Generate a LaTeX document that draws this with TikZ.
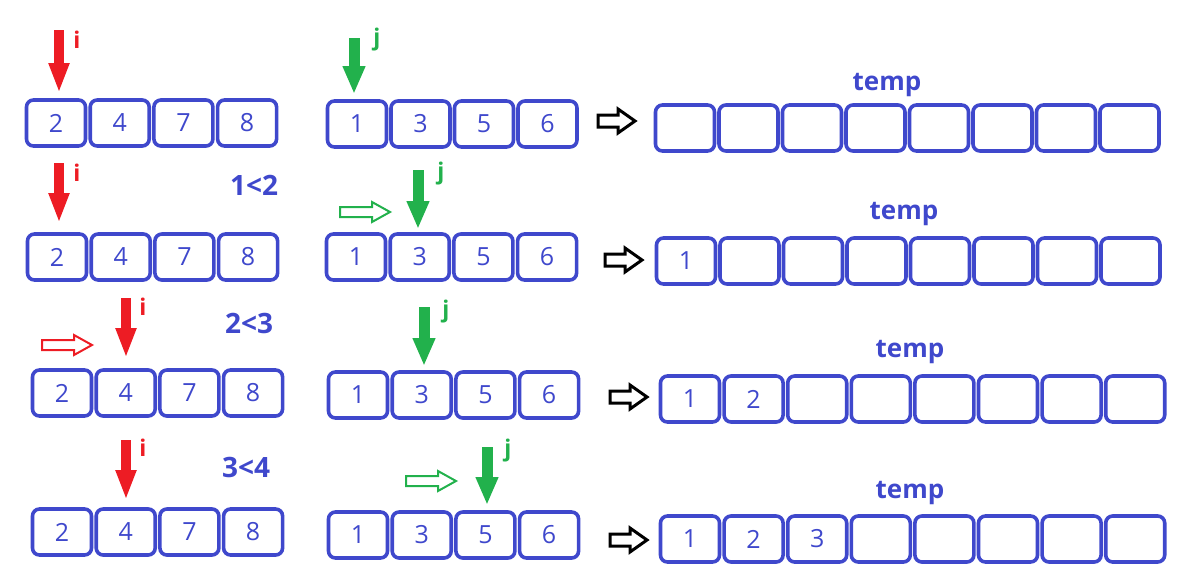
\documentclass[tikz,border=0pt]{standalone}
\usepackage{fontspec}
\setmainfont{Open Sans}
\usetikzlibrary{arrows.meta}
\definecolor{cblue}{HTML}{3F48CC}
\definecolor{cred}{HTML}{ED1C24}
\definecolor{cgreen}{HTML}{22B14C}
\tikzset{
  cell/.style={draw=cblue, line width=3.6pt, rounded corners=7pt, minimum width=59pt, minimum height=46pt, inner sep=0pt, text=cblue, font=\fontsize{25}{25}\selectfont},
  redptr/.style={cred, line width=10pt, -{Triangle[width=19pt,length=30pt]}},
  greenptr/.style={cgreen, line width=11pt, -{Triangle[width=21pt,length=28pt]}},
  plabel/.style={font=\fontsize{23}{23}\selectfont\bfseries},
  cmp/.style={text=cblue, font=\fontsize{28}{28}\selectfont\bfseries},
  templabel/.style={text=cblue, font=\fontsize{26}{26}\selectfont\bfseries},
  pics/bigharrow/.style={code={\draw[line width=3pt, miter limit=10] (0,-6) -- (20,-6) -- (20,-12) -- (37,0) -- (20,12) -- (20,6) -- (0,6) -- cycle;}},
  pics/smallharrow/.style={code={\draw[line width=2pt, miter limit=10] (0,-5) -- (32,-5) -- (32,-10) -- (50,0) -- (32,10) -- (32,5) -- (0,5) -- cycle;}}
}
\begin{document}
\begin{tikzpicture}[x=1pt,y=-1pt]
\useasboundingbox (0,0) rectangle (1180,584);
% ---------- Row 1 ----------
\foreach \v [count=\k] in {2,4,7,8} \node[cell] (L1-\k) at ({56+63.7*(\k-1)},123) {\v};
\foreach \v [count=\k] in {1,3,5,6} \node[cell] (J1-\k) at ({357+63.5*(\k-1)},124) {\v};
\foreach \k in {1,...,8} \node[cell] (T1-\k) at ({685+63.5*(\k-1)},128) {};
\coordinate (ri1s) at (59,30); \coordinate (ri1e) at (59,93);
\draw[redptr] (ri1s) -- (ri1e);
\node[plabel, text=cred] (i1) at (77,40) {i};
\coordinate (gj1s) at (354,38); \coordinate (gj1e) at (354,94);
\draw[greenptr] (gj1s) -- (gj1e);
\node[plabel, text=cgreen] (j1) at (377,40) {j};
\pic[black] at (598,121) {bigharrow};
\node[templabel] (tl1) at (887,85) {temp};
% ---------- Row 2 ----------
\foreach \v [count=\k] in {2,4,7,8} \node[cell] (L2-\k) at ({57+63.7*(\k-1)},257) {\v};
\foreach \v [count=\k] in {1,3,5,6} \node[cell] (J2-\k) at ({356+63.7*(\k-1)},257) {\v};
\foreach \v [count=\k] in {1,{},{},{},{},{},{},{}} \node[cell] (T2-\k) at ({686+63.5*(\k-1)},261) {\v};
\coordinate (ri2s) at (59,163); \coordinate (ri2e) at (59,223);
\draw[redptr] (ri2s) -- (ri2e);
\node[plabel, text=cred] (i2) at (77,173) {i};
\coordinate (gj2s) at (418,170); \coordinate (gj2e) at (418,229);
\draw[greenptr] (gj2s) -- (gj2e);
\node[plabel, text=cgreen] (j2) at (441,174) {j};
\pic[cgreen] at (340,212) {smallharrow};
\pic[black] at (605,260) {bigharrow};
\node[cmp] (c2) at (254,185) {1<2};
\node[templabel] (tl2) at (904,214) {temp};
% ---------- Row 3 ----------
\foreach \v [count=\k] in {2,4,7,8} \node[cell] (L3-\k) at ({62+63.7*(\k-1)},393) {\v};
\foreach \v [count=\k] in {1,3,5,6} \node[cell] (J3-\k) at ({358+63.7*(\k-1)},395) {\v};
\foreach \v [count=\k] in {1,2,{},{},{},{},{},{}} \node[cell] (T3-\k) at ({690+63.6*(\k-1)},399) {\v};
\coordinate (ri3s) at (126,298); \coordinate (ri3e) at (126,358);
\draw[redptr] (ri3s) -- (ri3e);
\node[plabel, text=cred] (i3) at (143,307) {i};
\pic[cred] at (42,345) {smallharrow};
\coordinate (gj3s) at (424,307); \coordinate (gj3e) at (424,366);
\draw[greenptr] (gj3s) -- (gj3e);
\node[plabel, text=cgreen] (j3) at (446,312) {j};
\pic[black] at (610,397) {bigharrow};
\node[cmp] (c3) at (249,323) {2<3};
\node[templabel] (tl3) at (910,352) {temp};
% ---------- Row 4 ----------
\foreach \v [count=\k] in {2,4,7,8} \node[cell] (L4-\k) at ({62+63.7*(\k-1)},532) {\v};
\foreach \v [count=\k] in {1,3,5,6} \node[cell] (J4-\k) at ({358+63.7*(\k-1)},535) {\v};
\foreach \v [count=\k] in {1,2,3,{},{},{},{},{}} \node[cell] (T4-\k) at ({690+63.6*(\k-1)},539) {\v};
\coordinate (ri4s) at (126,440); \coordinate (ri4e) at (126,500);
\draw[redptr] (ri4s) -- (ri4e);
\node[plabel, text=cred] (i4) at (143,448) {i};
\coordinate (gj4s) at (487,447); \coordinate (gj4e) at (487,505);
\draw[greenptr] (gj4s) -- (gj4e);
\node[plabel, text=cgreen] (j4) at (508,451) {j};
\pic[cgreen] at (406,481) {smallharrow};
\pic[black] at (610,540) {bigharrow};
\node[cmp] (c4) at (246,467) {3<4};
\node[templabel] (tl4) at (910,493) {temp};
\end{tikzpicture}
\end{document}
